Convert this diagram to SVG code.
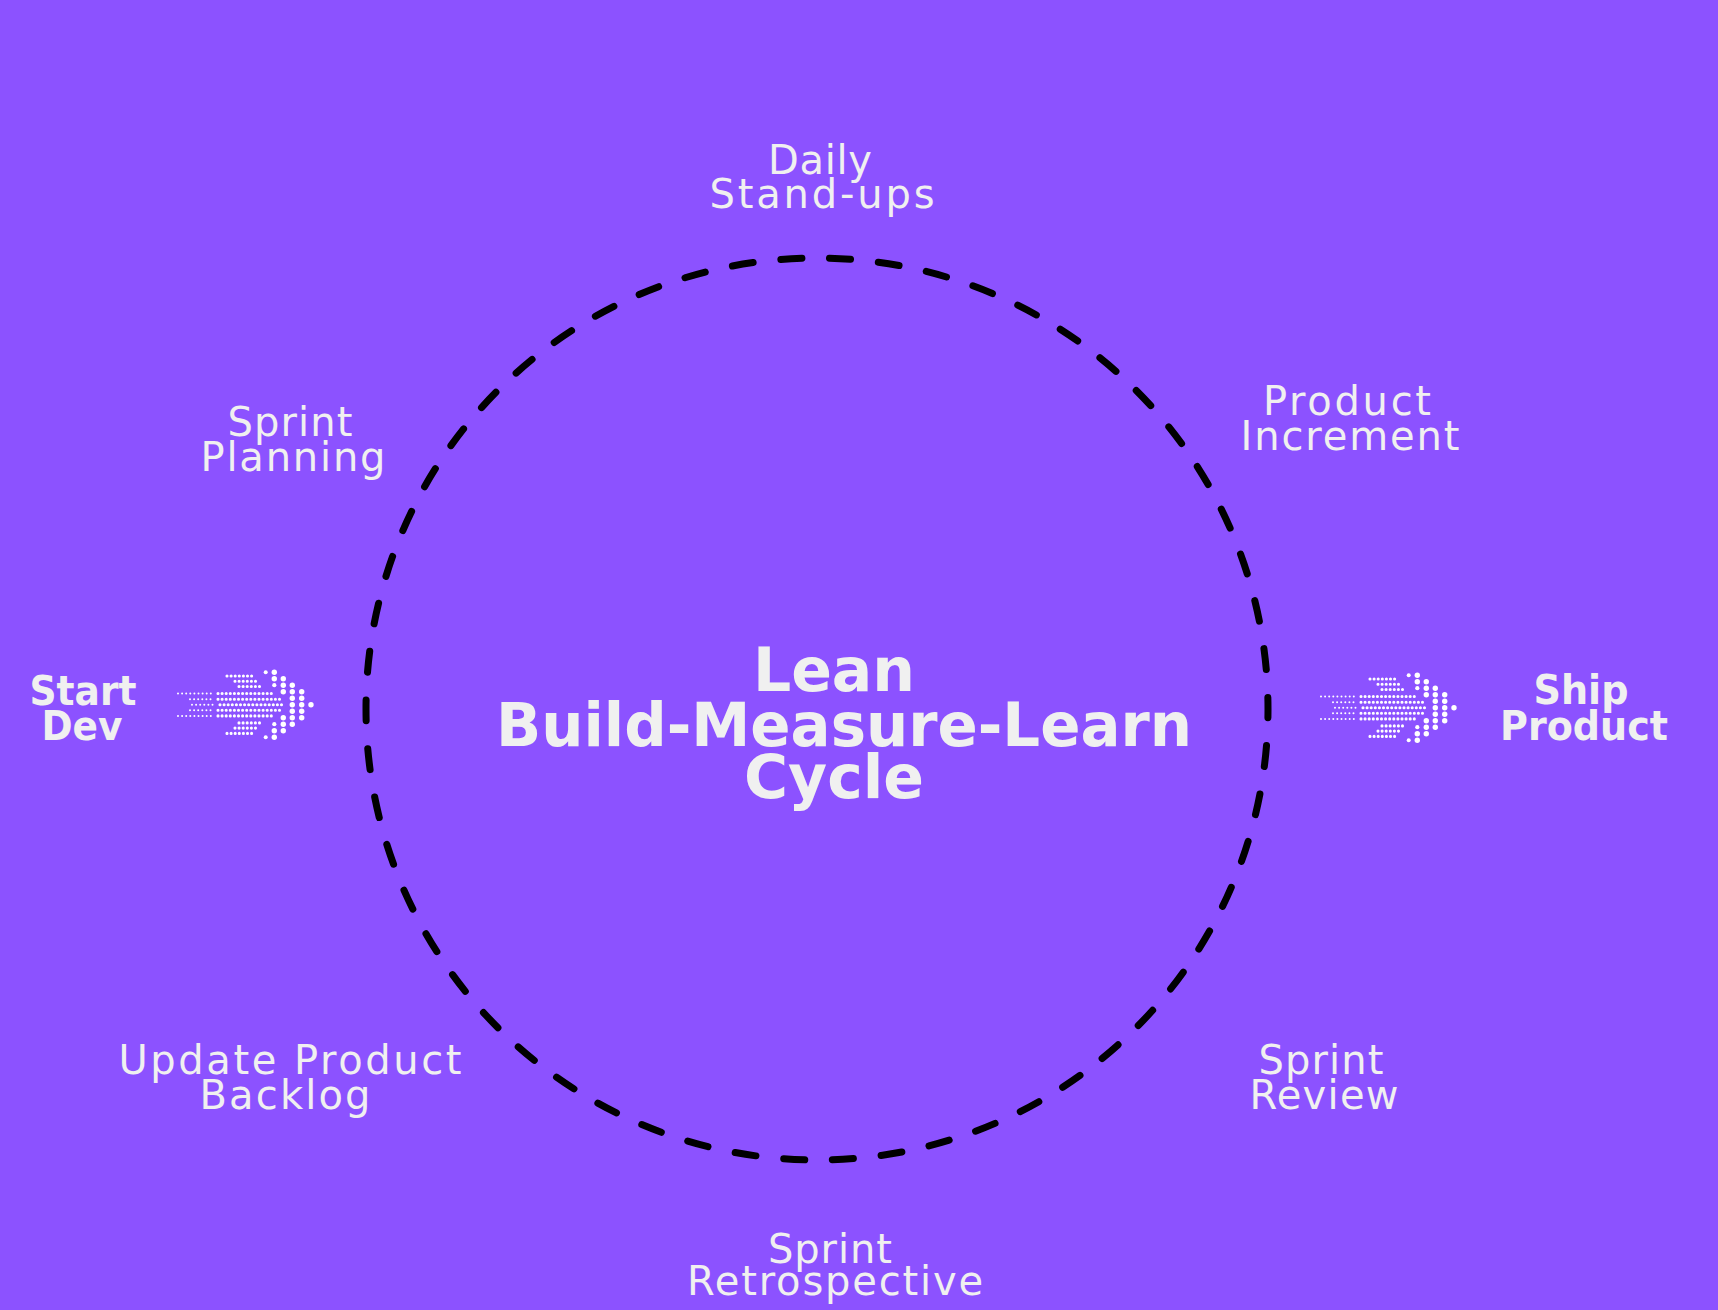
<svg xmlns="http://www.w3.org/2000/svg" xmlns:xlink="http://www.w3.org/1999/xlink" width="1718" height="1310" viewBox="0 0 1718 1310">
  <style>
    .lbl { font-family: "DejaVu Sans", "Liberation Sans", sans-serif; font-size: 40px; fill: #F0F0F0; text-anchor: middle; }
    .bold { font-family: "DejaVu Sans", "Liberation Sans", sans-serif; font-weight: bold; font-size: 41px; fill: #F0F0F0; text-anchor: middle; }
    .title { font-family: "DejaVu Sans", "Liberation Sans", sans-serif; font-weight: bold; font-size: 60px; fill: #F0F0F0; text-anchor: middle; }
    .row { stroke: #FFFFFF; stroke-width: 3.1; stroke-linecap: round; stroke-dasharray: 0 4.1; fill: none; }
    .tail { stroke: #FFFFFF; stroke-width: 2; stroke-linecap: round; stroke-dasharray: 0 4.1; fill: none; }
    .big { fill: #FFFFFF; }
  </style>
  <defs>
    <g id="dotArrow">
      <line class="row" x1="52" y1="14" x2="79" y2="14"/>
      <line class="row" x1="60" y1="19.3" x2="84" y2="19.3"/>
      <line class="row" x1="64" y1="24.5" x2="88" y2="24.5"/>
      <line class="tail" x1="3" y1="31.5" x2="39" y2="31.5"/>
      <line class="row" x1="43" y1="31.5" x2="100" y2="31.5"/>
      <line class="tail" x1="15" y1="37.2" x2="39" y2="37.2"/>
      <line class="row" x1="43" y1="37.2" x2="105" y2="37.2"/>
      <line class="tail" x1="17" y1="42.7" x2="41" y2="42.7"/>
      <line class="row" x1="45" y1="42.7" x2="109" y2="42.7"/>
      <line class="tail" x1="15" y1="48.2" x2="39" y2="48.2"/>
      <line class="row" x1="43" y1="48.2" x2="105" y2="48.2"/>
      <line class="tail" x1="3" y1="53.9" x2="39" y2="53.9"/>
      <line class="row" x1="43" y1="53.9" x2="100" y2="53.9"/>
      <line class="row" x1="64" y1="60.9" x2="88" y2="60.9"/>
      <line class="row" x1="60" y1="66.1" x2="84" y2="66.1"/>
      <line class="row" x1="52" y1="71.4" x2="79" y2="71.4"/>
      <circle class="big" cx="90.7" cy="10.2" r="2"/>
      <circle class="big" cx="99.3" cy="10.2" r="2.7"/>
      <circle class="big" cx="99.3" cy="16.7" r="2.7"/>
      <circle class="big" cx="108.3" cy="16.7" r="2.7"/>
      <circle class="big" cx="99.3" cy="23.2" r="2.1"/>
      <circle class="big" cx="108.3" cy="23.2" r="2.7"/>
      <circle class="big" cx="117.3" cy="23.2" r="2.7"/>
      <circle class="big" cx="108.3" cy="29.7" r="2.7"/>
      <circle class="big" cx="117.3" cy="29.7" r="2.7"/>
      <circle class="big" cx="126.7" cy="29.7" r="2.7"/>
      <circle class="big" cx="117.3" cy="36.2" r="2.7"/>
      <circle class="big" cx="126.7" cy="36.2" r="2.7"/>
      <circle class="big" cx="117.3" cy="42.7" r="2.7"/>
      <circle class="big" cx="126.7" cy="42.7" r="2.7"/>
      <circle class="big" cx="136" cy="42.7" r="2.7"/>
      <circle class="big" cx="117.3" cy="49.2" r="2.7"/>
      <circle class="big" cx="126.7" cy="49.2" r="2.7"/>
      <circle class="big" cx="108.3" cy="55.7" r="2.7"/>
      <circle class="big" cx="117.3" cy="55.7" r="2.7"/>
      <circle class="big" cx="126.7" cy="55.7" r="2.7"/>
      <circle class="big" cx="99.3" cy="62.2" r="2.1"/>
      <circle class="big" cx="108.3" cy="62.2" r="2.7"/>
      <circle class="big" cx="117.3" cy="62.2" r="2.7"/>
      <circle class="big" cx="99.3" cy="68.7" r="2.7"/>
      <circle class="big" cx="108.3" cy="68.7" r="2.7"/>
      <circle class="big" cx="90.7" cy="75.2" r="2"/>
      <circle class="big" cx="99.3" cy="75.2" r="2.7"/>
    </g>
  </defs>

  <rect x="0" y="0" width="1718" height="1310" fill="#8C52FF"/>

  <g id="connectors">
    <circle id="cycle-ring" cx="817" cy="709" r="451" fill="none" stroke="#000000" stroke-width="7" stroke-linecap="round" stroke-dasharray="21 27.857" stroke-dashoffset="12.16"/>
  </g>

  <g id="node-title">
    <text class="title"><tspan x="834" y="691">Lean</tspan><tspan x="844" y="746" textLength="696" lengthAdjust="spacingAndGlyphs">Build-Measure-Learn</tspan><tspan x="834" y="798">Cycle</tspan></text>
  </g>

  <g id="node-start">
    <text class="bold"><tspan x="83" y="705" textLength="107" lengthAdjust="spacingAndGlyphs">Start</tspan><tspan x="82" y="740" textLength="81" lengthAdjust="spacingAndGlyphs">Dev</tspan></text>
    <use xlink:href="#dotArrow" x="175" y="662"/>
  </g>

  <g id="node-ship">
    <use xlink:href="#dotArrow" x="1318" y="665"/>
    <text class="bold"><tspan x="1581" y="704" textLength="95" lengthAdjust="spacingAndGlyphs">Ship</tspan><tspan x="1584" y="740" textLength="168" lengthAdjust="spacingAndGlyphs">Product</tspan></text>
  </g>

  <g id="node-daily">
    <text class="lbl"><tspan x="820" y="174" textLength="104" lengthAdjust="spacing">Daily</tspan><tspan x="822" y="208" textLength="225" lengthAdjust="spacing">Stand-ups</tspan></text>
  </g>

  <g id="node-planning">
    <text class="lbl"><tspan x="290" y="436" textLength="125" lengthAdjust="spacing">Sprint</tspan><tspan x="293" y="471" textLength="185" lengthAdjust="spacing">Planning</tspan></text>
  </g>

  <g id="node-increment">
    <text class="lbl"><tspan x="1347" y="415" textLength="168" lengthAdjust="spacing">Product</tspan><tspan x="1350" y="450" textLength="219" lengthAdjust="spacing">Increment</tspan></text>
  </g>

  <g id="node-backlog">
    <text class="lbl"><tspan x="290" y="1074" textLength="343" lengthAdjust="spacing">Update Product</tspan><tspan x="285" y="1109" textLength="171" lengthAdjust="spacing">Backlog</tspan></text>
  </g>

  <g id="node-review">
    <text class="lbl"><tspan x="1321" y="1074" textLength="125" lengthAdjust="spacing">Sprint</tspan><tspan x="1324" y="1109" textLength="149" lengthAdjust="spacing">Review</tspan></text>
  </g>

  <g id="node-retro">
    <text class="lbl"><tspan x="830" y="1263" textLength="124" lengthAdjust="spacing">Sprint</tspan><tspan x="835" y="1295" textLength="296" lengthAdjust="spacing">Retrospective</tspan></text>
  </g>
</svg>
